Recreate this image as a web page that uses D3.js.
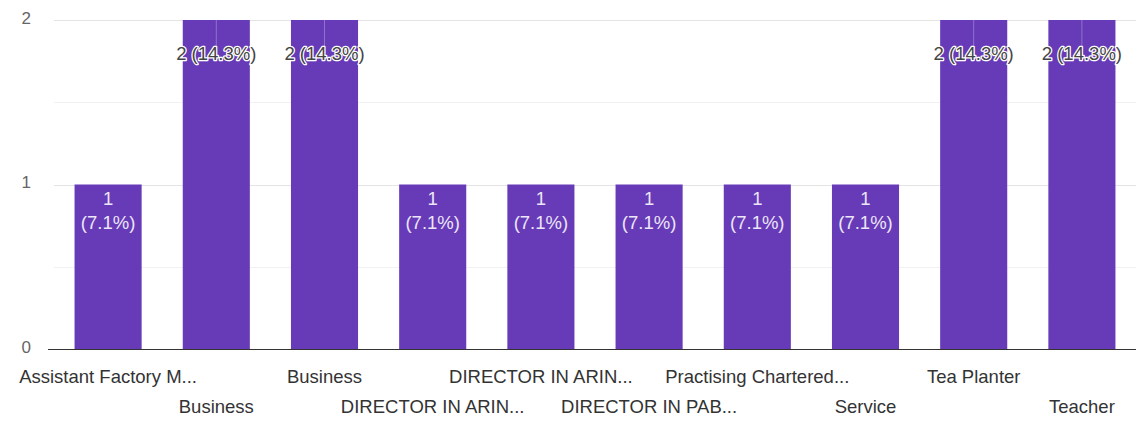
<!DOCTYPE html>
<html>
<head>
<meta charset="utf-8">
<script src="https://cdn.jsdelivr.net/npm/d3@7"></script>
<style>
  body { margin: 0; background: #fff; }
  text { font-family: "Liberation Sans", Arial, sans-serif; }
</style>
</head>
<body>
<div id="chart"></div>
<script>
const categories = [
  "Assistant Factory M...", "Business", "Business", "DIRECTOR IN ARIN...",
  "DIRECTOR IN ARIN...", "DIRECTOR IN PAB...", "Practising Chartered...",
  "Service", "Tea Planter", "Teacher"
];
const counts = [1, 2, 2, 1, 1, 1, 1, 1, 2, 2];
const percents = ["7.1%", "14.3%", "14.3%", "7.1%", "7.1%", "7.1%", "7.1%", "7.1%", "14.3%", "14.3%"];
const yTicks = [0, 1, 2];

const w = 1136;
const h = 421;
const marginLeft = 54;
const marginRight = 0;
const marginTop = 20;
const marginBottom = 71;
const barColor = "#673ab7";
const fontSize = 18.5;

const data = categories.map(function (c, i) {
  return { key: i, name: c, count: counts[i], pct: percents[i] };
});

const x = d3.scaleBand()
  .domain(data.map(function (d) { return d.key; }))
  .range([marginLeft, w - marginRight])
  .paddingInner(0.38)
  .paddingOuter(0.19);

const y = d3.scaleLinear()
  .domain([0, 2])
  .range([h - marginBottom - 1, marginTop]);

const svg = d3.select("#chart").append("svg")
  .attr("width", w)
  .attr("height", h);

// minor + major gridlines
svg.append("g").selectAll("line")
  .data([0.5, 1, 1.5, 2])
  .enter().append("line")
  .attr("x1", marginLeft)
  .attr("x2", w)
  .attr("y1", function (d) { return Math.round(y(d)) + 0.5; })
  .attr("y2", function (d) { return Math.round(y(d)) + 0.5; })
  .attr("stroke", function (d) { return d % 1 === 0 ? "#e4e4e4" : "#f1f1f1"; });

// y tick labels
svg.append("g").selectAll("text")
  .data(yTicks)
  .enter().append("text")
  .attr("x", 31)
  .attr("y", function (d) { return y(d) - 2; })
  .attr("dy", "0.35em")
  .attr("text-anchor", "end")
  .attr("font-size", 17)
  .attr("fill", "#666")
  .text(function (d) { return d; });

// bars
svg.append("g").selectAll("rect")
  .data(data)
  .enter().append("rect")
  .attr("x", function (d) { return x(d.key); })
  .attr("y", function (d) { return y(d.count); })
  .attr("width", x.bandwidth())
  .attr("height", function (d) { return y(0) - y(d.count); })
  .attr("fill", barColor);

// baseline
svg.append("line")
  .attr("x1", 48)
  .attr("x2", w)
  .attr("y1", Math.round(y(0)) + 0.5)
  .attr("y2", Math.round(y(0)) + 0.5)
  .attr("stroke", "#333")
  .attr("stroke-width", 1.2);

// labels for short bars: two lines inside the bar
const small = data.filter(function (d) { return d.count === 1; });
const sl = svg.append("g").selectAll("text")
  .data(small)
  .enter().append("text")
  .attr("text-anchor", "middle")
  .attr("font-size", fontSize)
  .attr("fill", "#ece6f7");
sl.append("tspan")
  .attr("x", function (d) { return x(d.key) + x.bandwidth() / 2; })
  .attr("y", function (d) { return y(d.count) + 20; })
  .text(function (d) { return d.count; });
sl.append("tspan")
  .attr("x", function (d) { return x(d.key) + x.bandwidth() / 2; })
  .attr("y", function (d) { return y(d.count) + 44; })
  .text(function (d) { return "(" + d.pct + ")"; });

// labels for tall bars: one line with a white halo
const big = data.filter(function (d) { return d.count === 2; });
svg.append("g").selectAll("line")
  .data(big)
  .enter().append("line")
  .attr("x1", function (d) { return x(d.key) + x.bandwidth() / 2; })
  .attr("x2", function (d) { return x(d.key) + x.bandwidth() / 2; })
  .attr("y1", function (d) { return y(d.count); })
  .attr("y2", function (d) { return y(d.count) + 26; })
  .attr("stroke", "#8f72cc")
  .attr("stroke-width", 1);
svg.append("g").selectAll("text")
  .data(big)
  .enter().append("text")
  .attr("x", function (d) { return x(d.key) + x.bandwidth() / 2; })
  .attr("y", function (d) { return y(d.count) + 40; })
  .attr("text-anchor", "middle")
  .attr("font-size", fontSize)
  .attr("fill", "#444")
  .attr("stroke", "#fff")
  .attr("stroke-width", 2.5)
  .attr("paint-order", "stroke")
  .attr("stroke-linejoin", "round")
  .text(function (d) { return d.count + " (" + d.pct + ")"; });

// x labels, staggered in two rows
svg.append("g").selectAll("text")
  .data(data)
  .enter().append("text")
  .attr("x", function (d) { return x(d.key) + x.bandwidth() / 2; })
  .attr("y", function (d) { return d.key % 2 === 0 ? 383 : 413; })
  .attr("text-anchor", "middle")
  .attr("font-size", fontSize)
  .attr("fill", "#333")
  .text(function (d) { return d.name; });
</script>
</body>
</html>
